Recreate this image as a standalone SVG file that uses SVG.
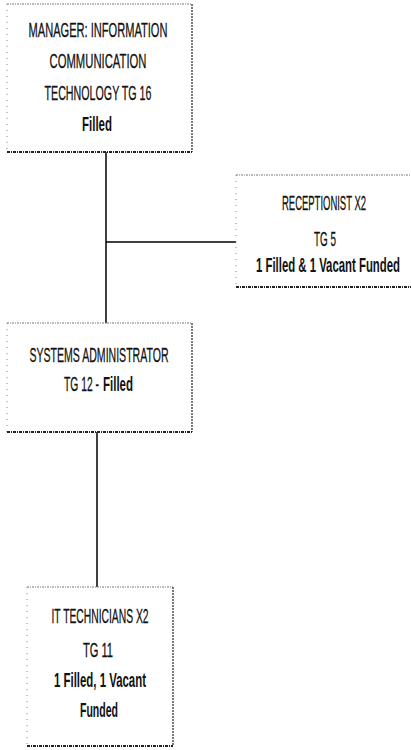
<svg xmlns="http://www.w3.org/2000/svg" width="411" height="750" viewBox="0 0 411 750">
<style>
text{font-family:"Liberation Sans",Arial,sans-serif;font-size:21px;fill:#111;text-anchor:middle;stroke:#111;stroke-width:0.3}
.b{font-weight:bold;stroke-width:0}
.s{text-anchor:start}
.top{stroke:#777;stroke-width:1;stroke-dasharray:2 1 1 1}
.left{stroke:#888;stroke-width:1;stroke-dasharray:1 5}
.right{stroke:#333;stroke-width:1.3;stroke-dasharray:2 1}
.bot{stroke:#222;stroke-width:2.2;stroke-dasharray:3 1 1 1}
.conn{stroke:#000;stroke-width:1.5;fill:none}
</style>
<rect width="411" height="750" fill="#fff"/>
<g id="connectors">
<line class="conn" x1="106" y1="152" x2="106" y2="323"/>
<line class="conn" x1="106" y1="242" x2="236" y2="242"/>
<line class="conn" x1="97" y1="432" x2="97" y2="587"/>
</g>
<g id="manager">
<line class="top" x1="7" y1="4" x2="192" y2="4"/>
<line class="left" x1="7" y1="4" x2="7" y2="152"/>
<line class="right" x1="192" y1="4" x2="192" y2="152"/>
<line class="bot" x1="7" y1="152" x2="192" y2="152"/>
<text x="98" y="37" textLength="139" lengthAdjust="spacingAndGlyphs">MANAGER: INFORMATION</text>
<text x="98" y="68" textLength="97" lengthAdjust="spacingAndGlyphs">COMMUNICATION</text>
<text x="98" y="100" textLength="107" lengthAdjust="spacingAndGlyphs">TECHNOLOGY TG 16</text>
<text class="b" x="97" y="131" textLength="30" lengthAdjust="spacingAndGlyphs">Filled</text>
</g>
<g id="receptionist">
<line class="top" x1="236" y1="175" x2="411" y2="175"/>
<line class="left" x1="236" y1="175" x2="236" y2="287"/>
<line class="bot" x1="236" y1="287" x2="411" y2="287"/>
<text x="324" y="210" textLength="84" lengthAdjust="spacingAndGlyphs">RECEPTIONIST X2</text>
<text x="325" y="246" textLength="22" lengthAdjust="spacingAndGlyphs">TG 5</text>
<text class="b" x="328" y="272" textLength="144" lengthAdjust="spacingAndGlyphs">1 Filled &amp; 1 Vacant Funded</text>
</g>
<g id="sysadmin">
<line class="top" x1="7" y1="323" x2="192" y2="323"/>
<line class="left" x1="7" y1="323" x2="7" y2="432"/>
<line class="right" x1="192" y1="323" x2="192" y2="432"/>
<line class="bot" x1="7" y1="432" x2="192" y2="432"/>
<text x="99" y="362" textLength="139" lengthAdjust="spacingAndGlyphs">SYSTEMS ADMINISTRATOR</text>
<text class="s" x="64" y="391" textLength="35" lengthAdjust="spacingAndGlyphs">TG 12 -</text>
<text class="b s" x="103" y="391" textLength="30" lengthAdjust="spacingAndGlyphs">Filled</text>
</g>
<g id="ittech">
<line class="top" x1="27" y1="587" x2="173" y2="587"/>
<line class="left" x1="27" y1="587" x2="27" y2="746"/>
<line class="right" x1="173" y1="587" x2="173" y2="746"/>
<line class="bot" x1="27" y1="746" x2="173" y2="746"/>
<text x="100" y="623" textLength="97" lengthAdjust="spacingAndGlyphs">IT TECHNICIANS X2</text>
<text x="98" y="657" textLength="30" lengthAdjust="spacingAndGlyphs">TG 11</text>
<text class="b" x="100" y="687" textLength="92" lengthAdjust="spacingAndGlyphs">1 Filled, 1 Vacant</text>
<text class="b" x="99" y="717" textLength="38" lengthAdjust="spacingAndGlyphs">Funded</text>
</g>
</svg>
